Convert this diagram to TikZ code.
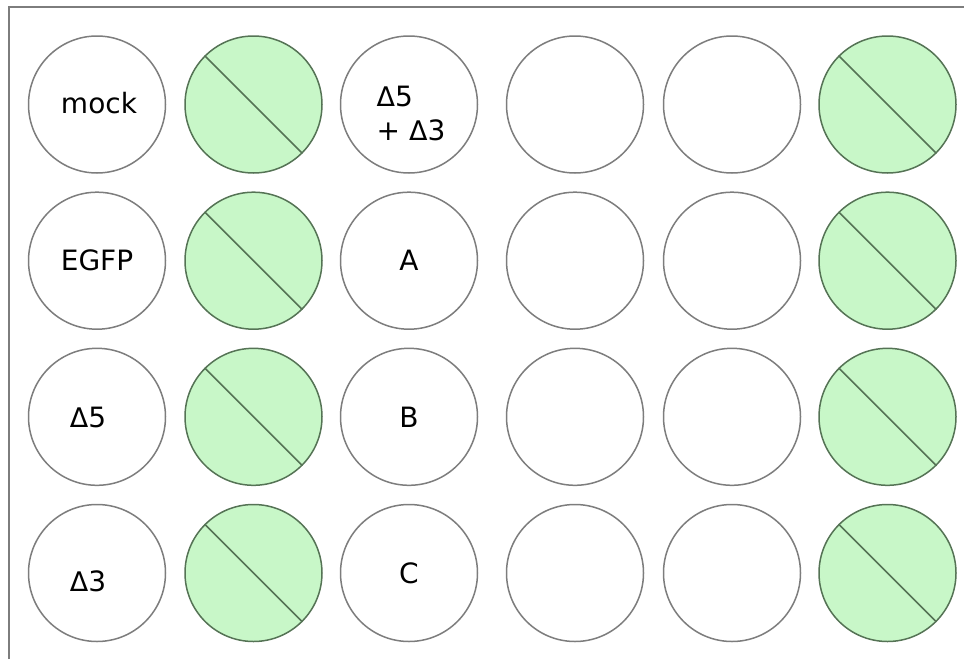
\documentclass[tikz,border=0pt]{standalone}
\usepackage{fontspec}
\setmainfont{DejaVu Sans}
\usepackage{tikz}
\usetikzlibrary{positioning, calc}
\definecolor{wellgray}{RGB}{125,125,125}
\definecolor{wellgreen}{RGB}{200,247,200}
\definecolor{linegreen}{RGB}{85,115,85}
\newcommand{\dlt}{{\fontsize{13.5pt}{14pt}\selectfont Δ}}

\begin{document}
\begin{tikzpicture}[x=0.5pt, y=-0.5pt, font=\fontsize{14pt}{17pt}\selectfont,
    well/.style={circle, draw=wellgray, line width=0.75pt, fill=white, minimum size=68.5pt, inner sep=0pt},
    dosed/.style={well, draw=linegreen, fill=wellgreen},
    cut/.style={draw=linegreen, line width=0.75pt}]
    \useasboundingbox (0,0) rectangle (964,659);
    \draw[wellgray, line width=1pt] (9,659) -- (9,7) -- (964,7);

    % row 1
    \node[well] (w11) at (97,104.5) {};
    \node[dosed] (w12) at (253.5,104.5) {};
    \node[well] (w13) at (409,104.5) {};
    \node[well] (w14) at (575,104.5) {};
    \node[well] (w15) at (732,104.5) {};
    \node[dosed] (w16) at (887.5,104.5) {};
    % row 2
    \node[well] (w21) at (97,260.7) {};
    \node[dosed] (w22) at (253.5,260.7) {};
    \node[well] (w23) at (409,260.7) {};
    \node[well] (w24) at (575,260.7) {};
    \node[well] (w25) at (732,260.7) {};
    \node[dosed] (w26) at (887.5,260.7) {};
    % row 3
    \node[well] (w31) at (97,416.8) {};
    \node[dosed] (w32) at (253.5,416.8) {};
    \node[well] (w33) at (409,416.8) {};
    \node[well] (w34) at (575,416.8) {};
    \node[well] (w35) at (732,416.8) {};
    \node[dosed] (w36) at (887.5,416.8) {};
    % row 4
    \node[well] (w41) at (97,573) {};
    \node[dosed] (w42) at (253.5,573) {};
    \node[well] (w43) at (409,573) {};
    \node[well] (w44) at (575,573) {};
    \node[well] (w45) at (732,573) {};
    \node[dosed] (w46) at (887.5,573) {};

    % strike through the green wells
    \draw[cut] (w12.135) -- (w12.-45);
    \draw[cut] (w16.135) -- (w16.-45);
    \draw[cut] (w22.135) -- (w22.-45);
    \draw[cut] (w26.135) -- (w26.-45);
    \draw[cut] (w32.135) -- (w32.-45);
    \draw[cut] (w36.135) -- (w36.-45);
    \draw[cut] (w42.135) -- (w42.-45);
    \draw[cut] (w46.135) -- (w46.-45);

    % labels
    \node (mock) at ($(w11)+(2,-1)$) {mock};
    \node (egfp) at (w21) {EGFP};
    \node (d5) at ($(w31)+(-9,1)$) {\dlt5};
    \node (d3) at ($(w41)+(-9,8)$) {\dlt3};
    \node[align=left] (d53) at ($(w13)+(2,9)$) {\dlt5\\+ \dlt3};
    \node (la) at (w23) {A};
    \node (lb) at (w33) {B};
    \node (lc) at (w43) {C};
\end{tikzpicture}
\end{document}
